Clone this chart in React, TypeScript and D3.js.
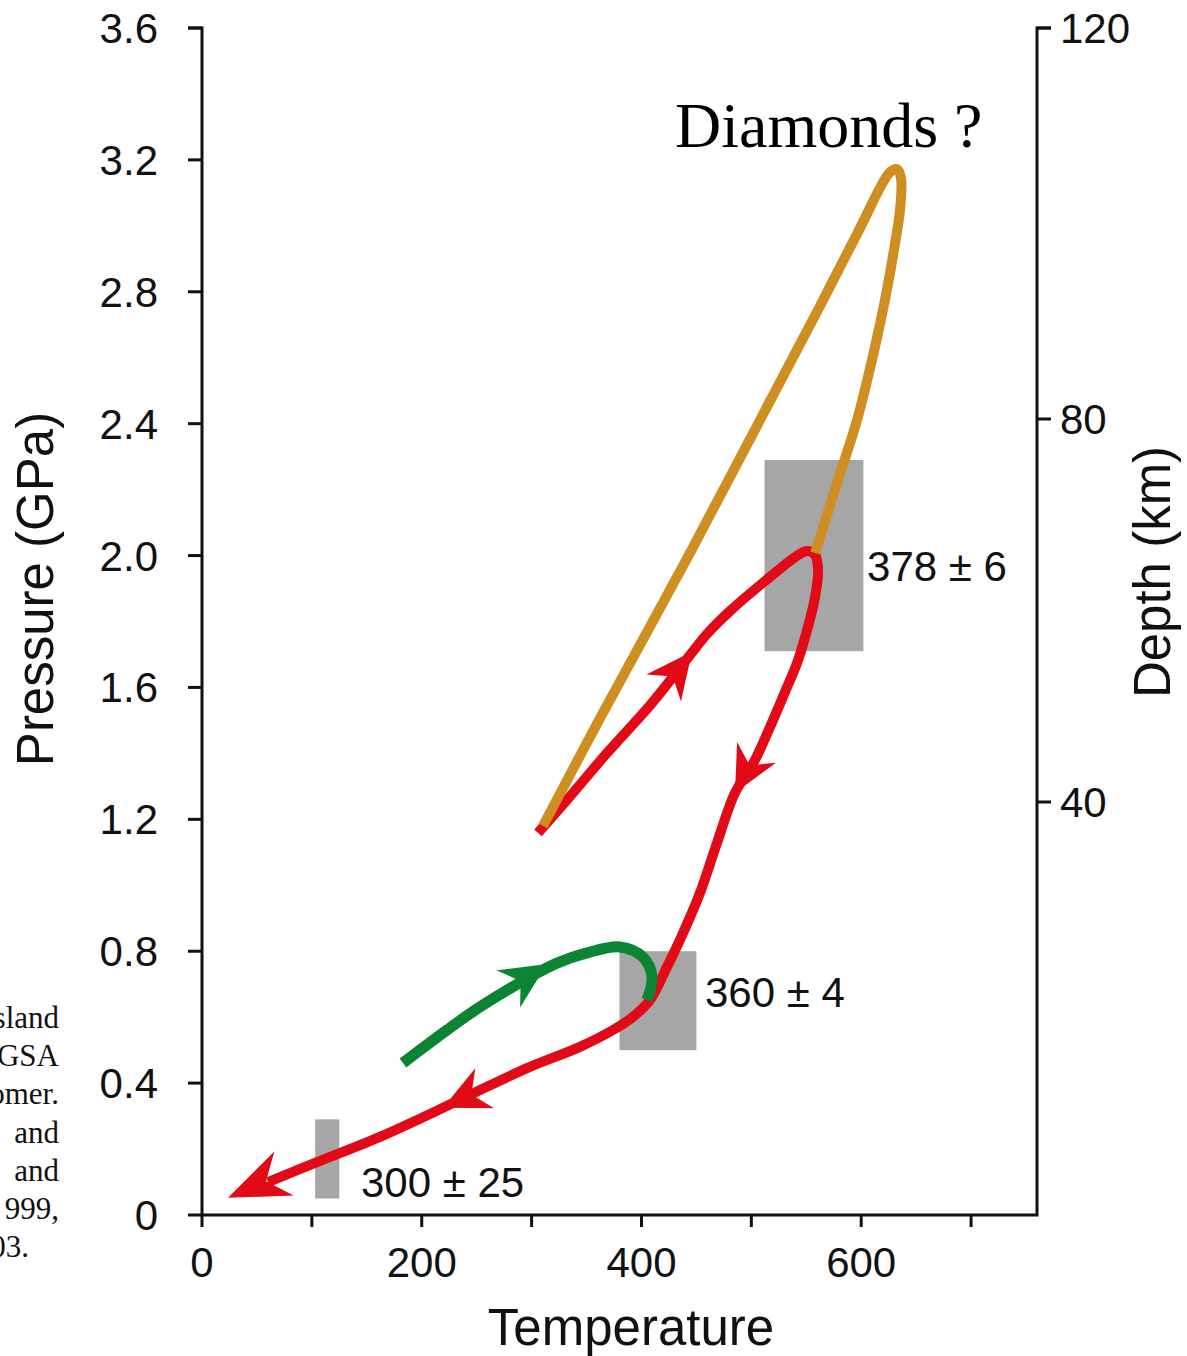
import { useEffect, useRef } from 'react';
import * as d3 from 'd3';

// P-T path chart: pressure (GPa) vs temperature, with a depth axis on the right

type Pt = [number, number]; // [temperature, pressure]

const pressureTicks = [0, 0.4, 0.8, 1.2, 1.6, 2.0, 2.4, 2.8, 3.2, 3.6];
const pressureLabels = ['0', '0.4', '0.8', '1.2', '1.6', '2.0', '2.4', '2.8', '3.2', '3.6'];
const tempTicks = [0, 100, 200, 300, 400, 500, 600, 700];
const tempLabels = [0, 200, 400, 600];
const depthTicks = [40, 80, 120];

// burial / exhumation path (red)
const redPath: Pt[] = [
    [305.8, 1.159], [332.2, 1.259], [368.6, 1.401], [409.6, 1.553], [444.2, 1.698],
    [459.6, 1.762], [480.6, 1.832], [524.3, 1.955], [539.7, 1.995],
    [550.7, 2.014], [558.0, 2.002], [560.7, 1.956], [558.0, 1.874], [550.7, 1.774],
    [541.6, 1.674], [530.6, 1.586], [517.0, 1.480], [503.3, 1.380], [485.1, 1.280],
    [468.7, 1.128], [453.3, 0.977], [437.8, 0.855], [423.2, 0.752], [407.8, 0.652],
    [392.3, 0.601], [374.1, 0.561], [344.0, 0.510], [298.5, 0.449], [253.0, 0.379],
    [219.4, 0.325], [162.0, 0.237], [102.9, 0.158], [60.1, 0.100],
];

// possible UHP excursion (orange)
const orangePath: Pt[] = [
    [310.4, 1.180], [362.3, 1.507], [444.2, 2.008], [507.9, 2.411], [562.5, 2.757],
    [598.9, 2.993], [617.1, 3.115], [626.2, 3.163], [632.6, 3.172], [636.2, 3.145],
    [635.3, 3.048], [629.8, 2.927], [621.6, 2.775], [609.8, 2.593], [596.2, 2.411],
    [578.9, 2.229], [558.0, 2.008],
];

// later path (green)
const greenPath: Pt[] = [
    [182.9, 0.461], [223.0, 0.561], [253.0, 0.631], [298.5, 0.722], [323.1, 0.764],
    [350.4, 0.795], [380.5, 0.813], [401.4, 0.782], [409.6, 0.722], [405.0, 0.652],
];

// arrow heads: tip and a point behind it on the path
const arrowTips: Pt[] = [[446.0, 1.708], [485.1, 1.280], [219.4, 0.325], [23.7, 0.052], [314.0, 0.761]];
const arrowFrom: Pt[] = [[409.6, 1.553], [517.0, 1.480], [298.5, 0.449], [143.8, 0.227], [253.0, 0.631]];
const arrowSeries = ['red', 'red', 'red', 'red', 'green'];
const arrowBig = [false, false, false, true, false];

// age boxes (temperature range, pressure range) and labels
const boxTemp: Pt[] = [[512, 602], [380, 450], [103, 125]];
const boxPress: Pt[] = [[1.71, 2.29], [0.50, 0.80], [0.05, 0.29]];
const boxLabels = ['378 ± 6', '360 ± 4', '300 ± 25'];
const boxLabelAt: Pt[] = [[605.3, 1.923], [457.8, 0.631], [144.7, 0.055]];

// cut-off caption text from the neighbouring column
const captionLines = ['sland', 'GSA', 'omer.', 'and', 'and', '999,', '03.'];

const COLORS: Record<string, string> = {
    red: '#e20a17',
    orange: '#cf8e22',
    green: '#0b8433',
    box: '#a7a6a6',
};

const SANS = "'Liberation Sans', Arial, Helvetica, sans-serif";
const SERIF = "'Liberation Serif', 'Times New Roman', serif";

const WIDTH = 1187;
const HEIGHT = 1356;
const LEFT = 202;
const RIGHT = 1037;
const TOP = 28;
const BOTTOM = 1215;

const PTChart = () => {
    const svgRef = useRef<SVGSVGElement | null>(null);

    useEffect(() => {
        const svg = d3.select(svgRef.current);
        svg.selectAll('*').remove();

        const x = d3.scaleLinear().domain([0, 760]).range([LEFT, RIGHT]);
        const y = d3.scaleLinear().domain([0, 3.6]).range([BOTTOM, TOP]);
        // depth axis is not quite linear with pressure in the original
        const depth = d3.scaleLinear().domain([40, 80, 120]).range([802, 419, TOP]);

        // grey age boxes
        boxTemp.forEach((t, i) => {
            const p = boxPress[i];
            svg.append('rect')
                .attr('x', x(t[0]))
                .attr('y', y(p[1]))
                .attr('width', x(t[1]) - x(t[0]))
                .attr('height', y(p[0]) - y(p[1]))
                .attr('fill', COLORS.box);

            svg.append('text')
                .attr('x', x(boxLabelAt[i][0]))
                .attr('y', y(boxLabelAt[i][1]))
                .attr('font-family', SANS)
                .attr('font-size', 42)
                .attr('fill', '#111')
                .text(boxLabels[i]);
        });

        // axes
        const axisColor = '#111';
        svg.append('path')
            .attr('d', `M${LEFT - 14},${TOP} H${LEFT} V${BOTTOM} H${RIGHT} V${TOP} H${RIGHT + 14}`)
            .attr('fill', 'none')
            .attr('stroke', axisColor)
            .attr('stroke-width', 3);

        pressureTicks.forEach((p, i) => {
            svg.append('line')
                .attr('x1', LEFT - 14).attr('x2', LEFT)
                .attr('y1', y(p)).attr('y2', y(p))
                .attr('stroke', axisColor).attr('stroke-width', 3);
            svg.append('text')
                .attr('x', 158)
                .attr('y', y(p) + 15)
                .attr('text-anchor', 'end')
                .attr('font-family', SANS)
                .attr('font-size', 42)
                .attr('fill', axisColor)
                .text(pressureLabels[i]);
        });

        tempTicks.forEach(t => {
            svg.append('line')
                .attr('x1', x(t)).attr('x2', x(t))
                .attr('y1', BOTTOM).attr('y2', BOTTOM + 12)
                .attr('stroke', axisColor).attr('stroke-width', 3);
        });
        tempLabels.forEach(t => {
            svg.append('text')
                .attr('x', x(t))
                .attr('y', 1277)
                .attr('text-anchor', 'middle')
                .attr('font-family', SANS)
                .attr('font-size', 42)
                .attr('fill', axisColor)
                .text(String(t));
        });

        depthTicks.forEach(d => {
            svg.append('line')
                .attr('x1', RIGHT).attr('x2', RIGHT + 14)
                .attr('y1', depth(d)).attr('y2', depth(d))
                .attr('stroke', axisColor).attr('stroke-width', 3);
            svg.append('text')
                .attr('x', 1060)
                .attr('y', depth(d) + 15)
                .attr('font-family', SANS)
                .attr('font-size', 42)
                .attr('fill', axisColor)
                .text(String(d));
        });

        // axis titles
        svg.append('text')
            .attr('transform', 'translate(53,589) rotate(-90)')
            .attr('text-anchor', 'middle')
            .attr('font-family', SANS)
            .attr('font-size', 51)
            .attr('fill', axisColor)
            .text('Pressure (GPa)');

        svg.append('text')
            .attr('x', 631)
            .attr('y', 1345)
            .attr('text-anchor', 'middle')
            .attr('font-family', SANS)
            .attr('font-size', 51)
            .attr('fill', axisColor)
            .text('Temperature');

        svg.append('text')
            .attr('transform', 'translate(1170,572) rotate(-90)')
            .attr('text-anchor', 'middle')
            .attr('font-family', SANS)
            .attr('font-size', 51)
            .attr('fill', axisColor)
            .text('Depth (km)');

        // P-T paths
        const line = d3.line<Pt>()
            .x(d => x(d[0]))
            .y(d => y(d[1]))
            .curve(d3.curveCatmullRom.alpha(0.5));

        const paths: [Pt[], string, number][] = [
            [redPath, COLORS.red, 10],
            [orangePath, COLORS.orange, 10],
            [greenPath, COLORS.green, 11],
        ];
        paths.forEach(([data, color, w]) => {
            svg.append('path')
                .attr('d', line(data))
                .attr('fill', 'none')
                .attr('stroke', color)
                .attr('stroke-width', w)
                .attr('stroke-linejoin', 'round');
        });

        // arrow heads
        arrowTips.forEach((tip, i) => {
            const tx = x(tip[0]);
            const ty = y(tip[1]);
            const fx = x(arrowFrom[i][0]);
            const fy = y(arrowFrom[i][1]);
            const d = Math.hypot(tx - fx, ty - fy);
            const ux = (tx - fx) / d;
            const uy = (ty - fy) / d;
            const len = arrowBig[i] ? 61 : 46;
            const half = arrowBig[i] ? 24 : 22;
            const bx = tx - ux * len;
            const by = ty - uy * len;
            const nx = tx - ux * len * 0.68;
            const ny = ty - uy * len * 0.68;
            const pts = [
                [tx, ty],
                [bx - uy * half, by + ux * half],
                [nx, ny],
                [bx + uy * half, by - ux * half],
            ];
            svg.append('path')
                .attr('d', `M${pts.map(p => p.join(',')).join('L')}Z`)
                .attr('fill', COLORS[arrowSeries[i]]);
        });

        svg.append('text')
            .attr('x', 675)
            .attr('y', 147)
            .attr('font-family', SERIF)
            .attr('font-size', 64)
            .attr('fill', '#000')
            .text('Diamonds ?');

        // caption fragment at the left edge
        captionLines.forEach((t, i) => {
            svg.append('text')
                .attr('x', i === captionLines.length - 1 ? 29 : 59)
                .attr('y', 1028 + i * 38.2)
                .attr('text-anchor', 'end')
                .attr('font-family', SERIF)
                .attr('font-size', 31)
                .attr('fill', '#111')
                .text(t);
        });
    }, []);

    return (
        <svg
            ref={svgRef}
            width={WIDTH}
            height={HEIGHT}
            style={{ position: 'absolute', left: 0, top: 0, background: '#fff' }}
        />
    );
};

export default function App() {
    return <PTChart />;
}
